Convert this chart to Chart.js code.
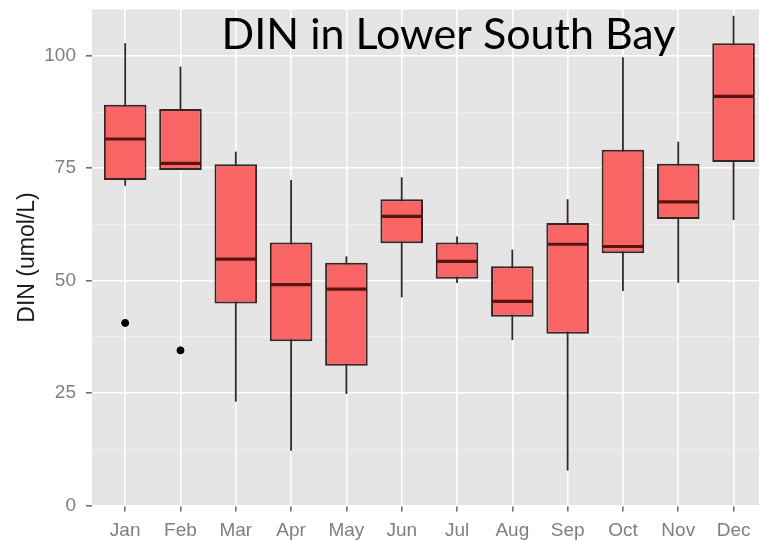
<!DOCTYPE html>
<html>
<head>
<meta charset="utf-8">
<title>DIN in Lower South Bay</title>
<script src="https://cdn.jsdelivr.net/npm/chart.js@4.4.1/dist/chart.umd.min.js"></script>
<style>
  html, body { margin: 0; padding: 0; background: #ffffff; overflow: hidden; }
  #wrap { width: 759px; height: 540px; }
</style>
</head>
<body>
<div id="wrap"><canvas id="c" width="759" height="540"></canvas></div>
<script>
// Monthly DIN box-plot statistics (umol/L)
const months      = ['Jan', 'Feb', 'Mar', 'Apr', 'May', 'Jun', 'Jul', 'Aug', 'Sep', 'Oct', 'Nov', 'Dec'];
const whiskerLow  = [71.1, 74.6, 23.1, 12.2, 24.8, 46.3, 49.5, 36.8,  7.8, 47.7, 49.5,  63.5];
const lowerQ      = [72.4, 74.6, 44.9, 36.5, 31.1, 58.3, 50.4, 42.0, 38.2, 56.1, 63.7,  76.4];
const medians     = [81.5, 76.1, 54.8, 49.1, 48.1, 64.3, 54.3, 45.4, 58.1, 57.6, 67.5,  91.0];
const upperQ      = [89.1, 88.2, 75.9, 58.5, 54.0, 68.1, 58.5, 53.2, 62.8, 79.1, 76.0, 102.8];
const whiskerHigh = [102.8, 97.6, 78.7, 72.4, 55.4, 73.0, 59.8, 56.9, 68.1, 99.7, 80.9, 108.9];
const outlierMonth = [0, 1];
const outlierValue = [40.6, 34.5];
const yMajorTicks  = [0, 25, 50, 75, 100];

const FILL = '#F96564';
const EDGE = '#352626';
const MEDIAN = '#5a1414';

// grey panel behind the grid
const panelBackground = {
  id: 'panelBackground',
  beforeDraw(chart) {
    const { ctx, chartArea: a } = chart;
    ctx.save();
    ctx.fillStyle = '#E5E5E5';
    ctx.fillRect(a.left, a.top, a.right - a.left, a.bottom - a.top);
    ctx.restore();
  }
};

// whiskers behind the boxes, medians on top of them
const boxParts = {
  id: 'boxParts',
  beforeDatasetsDraw(chart) {
    const { ctx, scales: { x, y } } = chart;
    ctx.save();
    ctx.strokeStyle = EDGE;
    ctx.lineWidth = 1.8;
    months.forEach((m, i) => {
      const px = x.getPixelForValue(i);
      ctx.beginPath();
      ctx.moveTo(px, y.getPixelForValue(whiskerLow[i]));
      ctx.lineTo(px, y.getPixelForValue(whiskerHigh[i]));
      ctx.stroke();
    });
    ctx.restore();
  },
  afterDatasetsDraw(chart) {
    const { ctx, scales: { y } } = chart;
    const bars = chart.getDatasetMeta(0).data;
    ctx.save();
    ctx.strokeStyle = MEDIAN;
    ctx.lineWidth = 3.2;
    bars.forEach((bar, i) => {
      const py = y.getPixelForValue(medians[i]);
      ctx.beginPath();
      ctx.moveTo(bar.x - bar.width / 2 + 1, py);
      ctx.lineTo(bar.x + bar.width / 2 - 1, py);
      ctx.stroke();
    });
    ctx.restore();
  },
  afterDraw(chart) {
    const { ctx } = chart;
    ctx.save();
    ctx.fillStyle = '#000000';
    ctx.font = '43px Lato, "Open Sans", sans-serif';
    ctx.textAlign = 'center';
    ctx.textBaseline = 'alphabetic';
    ctx.fillText('DIN in Lower South Bay', 448.5, 49);
    ctx.restore();
  }
};

const isMajor = v => yMajorTicks.includes(v);
const labelFont = { family: '"Liberation Sans", Arial, sans-serif', size: 19 };

new Chart(document.getElementById('c'), {
  type: 'bar',
  data: {
    datasets: [
      {
        type: 'bar',
        data: months.map((m, i) => ({ x: i, y: [lowerQ[i], upperQ[i]] })),
        backgroundColor: FILL,
        borderColor: EDGE,
        borderWidth: 2,
        borderSkipped: false,
        categoryPercentage: 0.77,
        barPercentage: 1,
        order: 2
      },
      {
        type: 'scatter',
        data: outlierMonth.map((m, i) => ({ x: m, y: outlierValue[i] })),
        backgroundColor: '#000000',
        borderColor: '#000000',
        pointRadius: 3.5,
        order: 1
      }
    ]
  },
  options: {
    responsive: false,
    animation: false,
    layout: { autoPadding: false, padding: { top: 9.5, right: 0, left: 0, bottom: 0 } },
    plugins: { legend: { display: false }, tooltip: { enabled: false } },
    scales: {
      x: {
        type: 'linear',
        min: -0.6,
        max: 11.46,
        offset: false,
        border: { display: false },
        afterBuildTicks(scale) { scale.ticks = months.map((m, i) => ({ value: i })); },
        afterFit(scale) {
          scale.height = 34.5;
          scale.paddingLeft = 0; scale.paddingRight = 0;
        },
        grid: { offset: false, color: '#FFFFFF', lineWidth: 1.6, tickLength: 6, tickColor: '#6F6F6F', drawTicks: true },
        ticks: {
          autoSkip: false,
          maxRotation: 0,
          padding: 8,
          color: '#7F7F7F',
          font: labelFont,
          callback: v => months[v] ?? ''
        }
      },
      y: {
        type: 'linear',
        min: 0,
        max: 110.3,
        border: { display: false },
        afterBuildTicks(scale) {
          const t = [];
          for (let k = 0; k < yMajorTicks.length; k++) {
            t.push({ value: yMajorTicks[k] });
            if (k < yMajorTicks.length - 1) t.push({ value: (yMajorTicks[k] + yMajorTicks[k + 1]) / 2 });
          }
          scale.ticks = t;
        },
        afterFit(scale) {
          scale.width = 92;
          scale.paddingTop = 0; scale.paddingBottom = 0;
        },
        grid: {
          color: c => isMajor(c.tick.value) ? '#FFFFFF' : '#F2F2F2',
          lineWidth: c => isMajor(c.tick.value) ? 1.6 : 0.8,
          tickLength: 6,
          tickColor: c => isMajor(c.tick.value) ? '#6F6F6F' : 'rgba(0,0,0,0)'
        },
        ticks: {
          padding: 10,
          color: '#7F7F7F',
          font: labelFont,
          callback: v => isMajor(v) ? String(v) : ''
        },
        title: {
          display: true,
          text: 'DIN (umol/L)',
          color: '#1a1a1a',
          font: { family: '"Liberation Sans", Arial, sans-serif', size: 23 },
          padding: { top: 14, bottom: 0 }
        }
      }
    }
  },
  plugins: [panelBackground, boxParts]
});
</script>
</body>
</html>
